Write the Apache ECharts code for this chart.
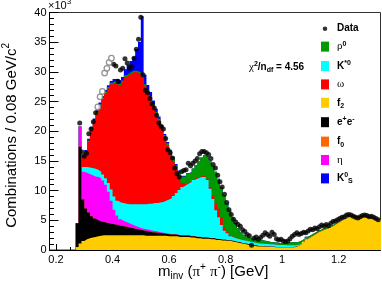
<!DOCTYPE html>
<html><head><meta charset="utf-8">
<script src="https://cdn.jsdelivr.net/npm/echarts@6/dist/echarts.min.js"></script>
<style>html,body{margin:0;padding:0;background:#fff}#c{width:382px;height:283px}</style>
</head><body><div id="c"></div>
<script>
// ---- axis settings ----
const xMin = 0.177, xMax = 1.348;
const yMin = 0, yMax = 40, yStep = 5;           // values in units of 10^3
const xLabelValues = [0.2, 0.4, 0.6, 0.8, 1, 1.2];
const xMinorValues = [0.2,0.25,0.3,0.35,0.4,0.45,0.5,0.55,0.6,0.65,0.7,0.75,0.8,0.85,0.9,0.95,1,1.05,1.1,1.15,1.2,1.25,1.3];

// ---- model components: histogram bins of width binWidth starting at binStart (0.27 ... 1.34) ----
const binStart = 0.27, binWidth = 0.01;
const f2 = [
 0.5,1.1,1.5,1.8,2.0,2.1,2.2,2.3,2.4,2.5,
 2.5,2.5,2.5,2.5,2.5,2.5,2.5,2.5,2.5,2.5,
 2.5,2.5,2.5,2.5,2.4,2.4,2.4,2.4,2.4,2.4,
 2.4,2.4,2.3,2.3,2.3,2.3,2.2,2.2,2.2,2.2,
 2.1,2.1,2.0,2.0,1.9,1.9,1.9,1.8,1.8,1.7,
 1.7,1.6,1.6,1.5,1.5,1.4,1.3,1.2,1.1,1.0,
 0.9,0.8,0.7,0.65,0.6,0.6,0.55,0.55,0.5,0.5,
 0.45,0.45,0.45,0.45,0.45,0.45,0.45,0.5,0.7,1.0,
 1.4,1.8,2.1,2.4,2.7,3.0,3.2,3.4,3.6,3.8,
 4.0,4.3,4.6,4.9,5.2,5.4,5.6,5.7,5.7,5.65,
 5.6,5.55,5.5,5.45,5.4,5.3,5.2,5.1];
const eePair = [
 4.0,16.3,7.0,5.2,4.3,3.6,3.1,2.7,2.4,2.2,
 2.1,2.0,1.9,1.8,1.7,1.6,1.5,1.4,1.3,1.2,
 1.1,1.0,0.9,0.8,0.8,0.7,0.6,0.55,0.5,0.45,
 0.4,0.35,0.35,0.3,0.3,0.28,0.26,0.25,0.24,0.23,
 0.22,0.21,0.2,0.2,0.2,0.19,0.18,0.17,0.16,0.15,
 0.15,0.14,0.13,0.12,0.12,0.11,0.1,0.1,0.1,0.1,
 0.1,0.1,0.1,0.1,0.05,0.05,0.05,0.05,0.05,0.05,
 0.05,0.05,0.05,0.05,0.05,0.05,0.05,0.05,0,0,
 0,0,0,0,0,0,0,0,0,0,
 0,0,0,0,0,0,0,0,0,0,
 0,0,0,0,0,0,0,0];
const f0 = [
 0,0,0,0,0,0,0,0,0,0, 0,0,0,0,0,0,0,0,0,0, 0,0,0,0,0,0,0,0,0,0,
 0,0,0,0,0,0,0,0,0,0, 0,0,0,0,0,0,0,0,0,0, 0,0,0,0,0,0,0,0,0,0,
 0,0,0,0,0,0,0,0,0,0, 0,0,0,0,0,0,0,0,0,0, 0,0,0,0,0,0,0,0,0,0,
 0,0,0,0,0,0,0,0,0,0, 0,0,0,0,0,0,0,0];
const eta = [
 0,3.4,4.7,6.0,6.5,6.9,7.1,7.3,7.3,7.0,
 6.4,5.3,3.9,2.5,1.6,1.1,0.9,0.8,0.7,0.6,
 0.5,0.4,0.3,0.3,0.3,0.3,0.3,0.25,0.2,0.15,
 0.1,0.1,0.1,0.1,0.05,0.05,0.05,0.05,0.05,0.05,
 0.05,0.05,0.05,0.05,0,0,0,0,0,0,
 0,0,0,0,0,0,0,0,0,0, 0,0,0,0,0,0,0,0,0,0,
 0,0,0,0,0,0,0,0,0,0, 0,0,0,0,0,0,0,0,0,0,
 0,0,0,0,0,0,0,0,0,0, 0,0,0,0,0,0,0,0];
const kStar = [
 0,0,0.8,1.0,1.1,1.2,1.3,1.2,1.1,1.0,
 1.1,1.5,1.9,2.2,2.5,2.8,3.0,3.1,3.2,3.4,
 3.6,3.8,4.0,4.1,4.2,4.4,4.5,4.7,4.8,5.0,
 5.2,5.45,5.75,6.0,6.45,6.95,7.6,8.1,8.4,8.7,
 9.1,9.45,9.75,9.95,10.2,10.2,9.7,8.35,6.65,4.85,
 3.65,2.45,1.5,1.2,0.7,0.6,0.55,0.5,0.5,0.5,
 0.5,0.5,0.5,0.45,0.45,0.45,0.4,0.4,0.4,0.4,
 0.4,0.35,0.35,0.35,0.3,0.3,0.3,0.25,0.2,0.15,
 0.1,0.1,0.05,0.05,0,0,0,0,0,0,
 0,0,0,0,0,0,0,0,0,0, 0,0,0,0,0,0,0,0];
const omega = [
 0,0,1.5,2.3,4.3,6.4,7.9,9.5,11.1,12.7,
 14.3,15.9,17.7,19.2,19.9,19.8,20.4,21.4,21.8,22.1,
 22.3,22.2,22.0,21.5,19.9,18.8,17.8,16.4,15.1,13.8,
 12.4,10.7,9.1,7.5,5.8,4.0,2.3,0.7,0.2,0.15,
 0.15,0.15,0.15,0.15,0.15,0.15,0.2,0.3,0.6,1.1,
 1.5,1.3,0.5,0.2,0.1,0.05,0.05,0,0,0,
 0,0,0,0,0,0,0,0,0,0, 0,0,0,0,0,0,0,0,0,0,
 0,0,0,0,0,0,0,0,0,0, 0,0,0,0,0,0,0,0,0,0,
 0,0,0,0,0,0,0,0];
const rho = [
 0,0,0.25,0.25,0.25,0.25,0.25,0.25,0.25,0.25,
 0.25,0.25,0.25,0.25,0.25,0.25,0.25,0.25,0.25,0.25,
 0.25,0.25,0.25,0.25,0.3,0.3,0.3,0.3,0.3,0.3,
 0.3,0.35,0.4,0.5,0.6,0.7,0.9,1.1,1.3,1.5,
 1.5,1.75,2.15,2.65,3.15,3.55,3.7,4.4,5.0,5.4,
 5.0,5.1,5.5,4.8,4.2,3.3,2.5,1.85,1.35,0.95,
 0.7,0.6,0.6,0.6,0.6,0.6,0.55,0.5,0.4,0.35,
 0.35,0.35,0.35,0.35,0.45,0.5,0.5,0.5,0.5,0.45,
 0.4,0.35,0.3,0.3,0.3,0.3,0.25,0.25,0.25,0.2,
 0.2,0.2,0.15,0.15,0.1,0.1,0.1,0.05,0.05,0.05,
 0,0,0,0,0,0,0,0];
const k0s = [
 0,0,0.3,0.3,0.3,0.3,0.3,0.3,0.3,0.3,
 0.3,0.3,0.3,0.35,0.4,0.5,0.6,1.0,1.5,1.8,
 2.3,3.7,5.1,9.9,1.6,0.9,0.7,0.6,0.5,0.4,
 0.3,0.2,0.2,0.2,0.2,0.2,0.1,0.1,0.1,0.1,
 0,0,0,0,0,0,0,0,0,0, 0,0,0,0,0,0,0,0,0,0,
 0,0,0,0,0,0,0,0,0,0, 0,0,0,0,0,0,0,0,0,0,
 0,0,0,0,0,0,0,0,0,0, 0,0,0,0,0,0,0,0,0,0,
 0,0,0,0,0,0,0,0];

// ---- data points: one every dataStep starting at dataStart (0.284 ... 1.340) ----
const dataStart = 0.284, dataStep = 0.008;
const dataValues = [
 21.4,16.5,15.8,16.3,19.6,20.4,21.6,23.1,24.1,25.8,
 26.7,29.8,30.6,31.6,32.3,31.3,31.0,28.4,30.3,30.6,
 32.2,31.5,30.6,30.9,32.3,33.8,35.5,39.2,29.5,26.9,
 26.5,25.5,24.6,23.9,22.7,21.4,20.8,20.4,18.8,16.9,
 16.4,15.5,13.8,12.9,12.3,13.2,13.4,13.5,14.6,14.2,
 14.6,15.0,15.4,16.2,16.6,16.6,16.4,16.1,15.4,14.4,
 13.8,12.6,11.5,10.6,9.4,8.0,6.8,6.0,5.2,4.7,
 4.3,4.0,3.4,3.1,2.6,2.4,0.8,2.0,2.2,1.8,
 2.1,2.5,2.9,2.6,2.3,3.0,2.6,1.9,1.7,1.8,
 1.5,1.4,1.5,1.9,2.3,2.6,2.9,2.6,2.8,3.0,
 2.9,3.2,3.5,3.4,3.7,3.6,3.9,4.2,4.0,4.3,
 4.1,4.5,4.8,4.9,5.1,5.3,5.5,5.6,5.9,6.0,
 5.9,5.7,5.5,5.4,5.6,5.8,5.9,5.8,5.6,5.7,
 5.5,5.3,5.1];
// points drawn as open (grey) circles
const openRange = [0.344, 0.40];

// ---- build ----
const F = 'Liberation Sans';
const FS = 'Liberation Serif';
function binEdge(i){ return Math.round((binStart + i*binWidth)*1000)/1000; }
function stepData(vals){
  const out = vals.map((v,i)=>[binEdge(i), v]);
  out.push([binEdge(vals.length), vals[vals.length-1]]);
  return out;
}
const blackPts = [], openPts = [];
dataValues.forEach((v,i)=>{
  const x = Math.round((dataStart + i*dataStep)*1000)/1000;
  if (x >= openRange[0] && x <= openRange[1]) openPts.push([x,v]); else blackPts.push([x,v]);
});

// stack order, bottom -> top
const comps = [
  {name:'f2',   vals:f2,     color:'#ffcc00'},
  {name:'e+e-', vals:eePair, color:'#000000'},
  {name:'f0',   vals:f0,     color:'#ff6600'},
  {name:'η',    vals:eta,    color:'#ff00ff'},
  {name:'K*0',  vals:kStar,  color:'#00ffff'},
  {name:'ω',    vals:omega,  color:'#ff0000'},
  {name:'ρ0',   vals:rho,    color:'#009900'},
  {name:'K0S',  vals:k0s,    color:'#0000ff'}
];
// cumulative sums (stacking done here), then draw from the top layer down
let cum = f2.map(()=>0);
const layers = comps.map(c=>{
  cum = cum.map((s,i)=>Math.round((s + c.vals[i])*1000)/1000);
  return {name:c.name, color:c.color, top:cum.slice()};
});
const series = layers.slice().reverse().map(l=>({
  type:'line', name:l.name, data:stepData(l.top), step:'end',
  symbol:'none', showSymbol:false,
  color:l.color, itemStyle:{color:l.color},
  lineStyle:{width:0, opacity:0},
  areaStyle:{color:l.color, opacity:1, origin:'start'},
  silent:true, z:2
}));
series.push({type:'scatter', name:'Data', data:blackPts, symbol:'circle', symbolSize:5,
  itemStyle:{color:'#000'}, z:5, silent:true});
series.push({type:'scatter', name:'Data (open)', data:openPts, symbol:'circle', symbolSize:5.5,
  itemStyle:{color:'#ffffff', borderColor:'#7a7a7a', borderWidth:1.3}, z:5, silent:true});

const legendLabels = {
  'Data':'{b|Data}',
  'ρ0':'{g|ρ}{sup|0}',
  'K*0':'{b|K}{sup|*0}',
  'ω':'{g|ω}',
  'f2':'{b|f}{sub|2}',
  'e+e-':'{b|e}{sup|+}{b|e}{sup|-}',
  'f0':'{b|f}{sub|0}',
  'η':'{g|η}',
  'K0S':'{b|K}{sup|0}{sub|S}'
};
const dotIcon = 'path://M0,0h0.01v0.01h-0.01zM7.99,9.99h0.01v0.01h-0.01zM6.3,5a2.3,2.3 0 1,1 -4.6,0a2.3,2.3 0 1,1 4.6,0z';

const chart = echarts.init(document.getElementById('c'), null, {renderer:'canvas'});
chart.setOption({
  animation:false,
  backgroundColor:'#ffffff',
  grid:{left:49.5, right:1.5, top:12.5, bottom:33, show:true, borderColor:'#333', borderWidth:1, backgroundColor:'transparent'},
  xAxis:[{
    type:'value', min:xMin, max:xMax, position:'bottom',
    axisLine:{show:true, lineStyle:{color:'#000', width:1}},
    axisTick:{show:true, inside:true, length:6, customValues:xLabelValues, lineStyle:{color:'#000'}},
    axisLabel:{show:true, customValues:xLabelValues, margin:4, fontSize:11, fontFamily:F, color:'#000',
      formatter:v=>String(Math.round(v*10)/10)},
    splitLine:{show:false}
  },{
    type:'value', min:xMin, max:xMax, position:'bottom', gridIndex:0,
    axisLine:{show:false}, axisLabel:{show:false}, splitLine:{show:false},
    axisTick:{show:true, inside:true, length:3, customValues:xMinorValues, lineStyle:{color:'#000'}}
  }],
  yAxis:{
    type:'value', min:yMin, max:yMax, interval:yStep,
    axisLine:{show:true, lineStyle:{color:'#000', width:1}},
    axisTick:{show:true, inside:true, length:9, lineStyle:{color:'#000'}},
    minorTick:{show:true, splitNumber:5, length:4.5, lineStyle:{color:'#000'}},
    axisLabel:{margin:3, fontSize:11, fontFamily:F, color:'#000'},
    splitLine:{show:false}, minorSplitLine:{show:false}
  },
  legend:{
    show:true, orient:'vertical', left:321, top:23.7, itemWidth:8, itemHeight:10, itemGap:6.4,
    selectedMode:false, padding:0,
    data:[
      {name:'Data', icon:dotIcon},
      {name:'ρ0', icon:'rect'}, {name:'K*0', icon:'rect'}, {name:'ω', icon:'rect'},
      {name:'f2', icon:'rect'}, {name:'e+e-', icon:'rect'}, {name:'f0', icon:'rect'},
      {name:'η', icon:'rect'}, {name:'K0S', icon:'rect'}
    ],
    formatter:n=>legendLabels[n] || n,
    textStyle:{fontFamily:F, fontSize:10, fontWeight:'bold', color:'#000', padding:[0,0,0,3],
      rich:{
        b:{fontFamily:F, fontSize:10, fontWeight:'bold', color:'#000', lineHeight:10},
        g:{fontFamily:FS, fontSize:11, fontWeight:'normal', color:'#000', lineHeight:10},
        sup:{fontFamily:F, fontSize:7, fontWeight:'bold', color:'#000', lineHeight:10, padding:[0,0,6,0]},
        sub:{fontFamily:F, fontSize:7, fontWeight:'bold', color:'#000', lineHeight:10, padding:[6,0,0,0]}
      }}
  },
  graphic:[
    {type:'text', x:11.5, y:43, rotation:Math.PI/2, silent:true,
      style:{text:'{t|Combinations / 0.08 GeV/c}{p|2}', align:'right', verticalAlign:'middle',
        rich:{t:{fontFamily:F, fontSize:15, color:'#000', lineHeight:16},
              p:{fontFamily:F, fontSize:10, color:'#000', lineHeight:16, padding:[0,0,10,0]}}}},
    {type:'text', x:158, y:272, silent:true,
      style:{text:'{t|m}{s|inv}{t| (}{g|π}{p|+}{t| }{g|π}{p|-}{t|) [GeV]}', align:'left', verticalAlign:'middle',
        rich:{t:{fontFamily:F, fontSize:15, color:'#000', lineHeight:16},
              g:{fontFamily:FS, fontSize:15, color:'#000', lineHeight:16},
              s:{fontFamily:F, fontSize:10, color:'#000', lineHeight:16, padding:[8,0,0,0]},
              p:{fontFamily:F, fontSize:10, color:'#000', lineHeight:16, padding:[0,0,10,0]}}}},
    {type:'text', x:249, y:67, silent:true,
      style:{text:'{g|χ}{p|2}{b|/n}{s|df}{b| = 4.56}', align:'left', verticalAlign:'middle',
        rich:{b:{fontFamily:F, fontSize:10, fontWeight:'bold', color:'#000', lineHeight:12},
              g:{fontFamily:FS, fontSize:11, color:'#000', lineHeight:12},
              p:{fontFamily:F, fontSize:7, fontWeight:'bold', color:'#000', lineHeight:12, padding:[0,0,6,0]},
              s:{fontFamily:F, fontSize:7, fontWeight:'bold', color:'#000', lineHeight:12, padding:[6,0,0,0]}}}},
    {type:'text', x:48, y:6, silent:true,
      style:{text:'{t|×10}{p|3}', align:'left', verticalAlign:'middle',
        rich:{t:{fontFamily:F, fontSize:11, color:'#000', lineHeight:12},
              p:{fontFamily:F, fontSize:8, color:'#000', lineHeight:12, padding:[0,0,8,0]}}}}
  ],
  series:series
});
</script>
</body></html>
